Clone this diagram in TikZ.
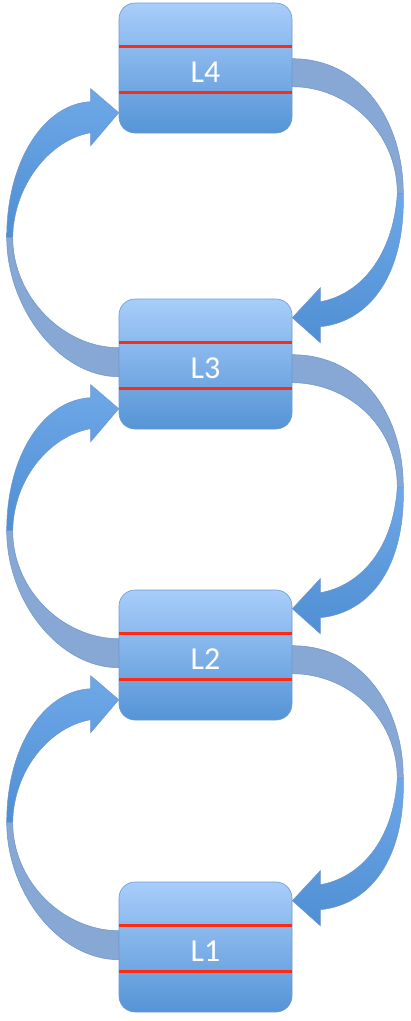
\documentclass[tikz,border=0pt]{standalone}
\usepackage{fontspec}
\newfontfamily\labfont{Carlito}
\usetikzlibrary{calc,backgrounds}
\definecolor{boxtop}{HTML}{A8CDFA}
\definecolor{boxbot}{HTML}{5594D6}
\definecolor{boxedge}{HTML}{6A9BD3}
\definecolor{redline}{HTML}{FF2A12}
\definecolor{ribback}{HTML}{87A7D4}
\definecolor{ribedge}{HTML}{6E95C9}
\definecolor{ribtop}{HTML}{6EA8E8}
\definecolor{ribbot}{HTML}{4F8FD3}
\tikzset{
 layerbox/.style={rounded corners=16pt, minimum width=173pt, minimum height=130pt, inner sep=0pt, top color=boxtop, bottom color=boxbot, draw=boxedge, line width=0.6pt},
 sepline/.style={draw=redline, line width=3pt},
 lab/.style={text=white, font=\labfont\fontsize{32}{32}\selectfont, inner sep=0pt},
 ribbonback/.style={fill=ribback, draw=ribedge, line width=0.5pt},
 ribbonfront/.style={top color=ribtop, bottom color=ribbot, draw=ribedge, line width=0.5pt},
}
\newcommand{\RibbonR}[2]{%
 \coordinate (rS) at (#1.north east);
 \coordinate (rD) at (#2.north east);
 \coordinate (rM) at ($($(rS)+(0,-70)$)!0.5!($(rD)+(0,-16)$)$);
 \path[ribbonback] ($(rS)+(0,-56)$) .. controls ($(rS)+(70,-56)$) and ($(rM)+(111,72)$) .. ($(rM)+(111,0)$) -- ($(rM)+(105,0)$) .. controls ($(rM)+(105,62)$) and ($(rS)+(55,-84)$) .. ($(rS)+(0,-84)$) -- cycle;
 \path[ribbonfront] ($(rM)+(111,0)$) .. controls ($(rM)+(113,-80)$) and ($(rD)+(78,-23)$) .. ($(rD)+(28,-28)$) -- ($(rD)+(28,-44)$) -- ($(rD)+(0,-19)$) -- ($(rD)+(28,11)$) -- ($(rD)+(28,-3)$) .. controls ($(rD)+(68,4)$) and ($(rM)+(101,-62)$) .. ($(rM)+(105,0)$) -- cycle;
}
\newcommand{\RibbonL}[2]{%
 \coordinate (lS) at (#1.north west);
 \coordinate (lD) at (#2.north west);
 \coordinate (lM) at ($($(lS)+(0,-63)$)!0.5!($(lD)+(0,-110)$)$);
 \path[ribbonback] ($(lS)+(0,-78)$) .. controls ($(lS)+(-60,-78)$) and ($(lM)+(-112,-70)$) .. ($(lM)+(-112,0)$) -- ($(lM)+(-106,0)$) .. controls ($(lM)+(-106,-60)$) and ($(lS)+(-55,-49)$) .. ($(lS)+(0,-49)$) -- cycle;
 \path[ribbonfront] ($(lM)+(-112,0)$) .. controls ($(lM)+(-112,77)$) and ($(lD)+(-74,-101)$) .. ($(lD)+(-28,-99)$) -- ($(lD)+(-28,-86)$) -- ($(lD)+(0,-110)$) -- ($(lD)+(-28,-143)$) -- ($(lD)+(-28,-130)$) .. controls ($(lD)+(-69,-137)$) and ($(lM)+(-105,52)$) .. ($(lM)+(-106,0)$) -- cycle;
}
\begin{document}
\begin{tikzpicture}[x=1pt,y=1pt]
\useasboundingbox (0,0) rectangle (411,-1021);
\node[layerbox] (L4) at (205.5,-68) {};
\node[layerbox] (L3) at (205.5,-364) {};
\node[layerbox] (L2) at (205.5,-655) {};
\node[layerbox] (L1) at (205.5,-947) {};
\foreach \n in {L1,L2,L3,L4}{
 \draw[sepline] ($(\n.north west)+(0.5,-44)$) -- ($(\n.north east)+(-0.5,-44)$);
 \draw[sepline] ($(\n.north west)+(0.5,-90)$) -- ($(\n.north east)+(-0.5,-90)$);
}
\node[lab] (L4t) at ($(L4.center)+(0,-4)$) {L4};
\node[lab] (L3t) at ($(L3.center)+(0,-4)$) {L3};
\node[lab] (L2t) at ($(L2.center)+(0,-4)$) {L2};
\node[lab] (L1t) at ($(L1.center)+(0,-4)$) {L1};
\begin{scope}[on background layer]
\RibbonR{L4}{L3}
\RibbonR{L3}{L2}
\RibbonR{L2}{L1}
\RibbonL{L3}{L4}
\RibbonL{L2}{L3}
\RibbonL{L1}{L2}
\end{scope}
\end{tikzpicture}
\end{document}
